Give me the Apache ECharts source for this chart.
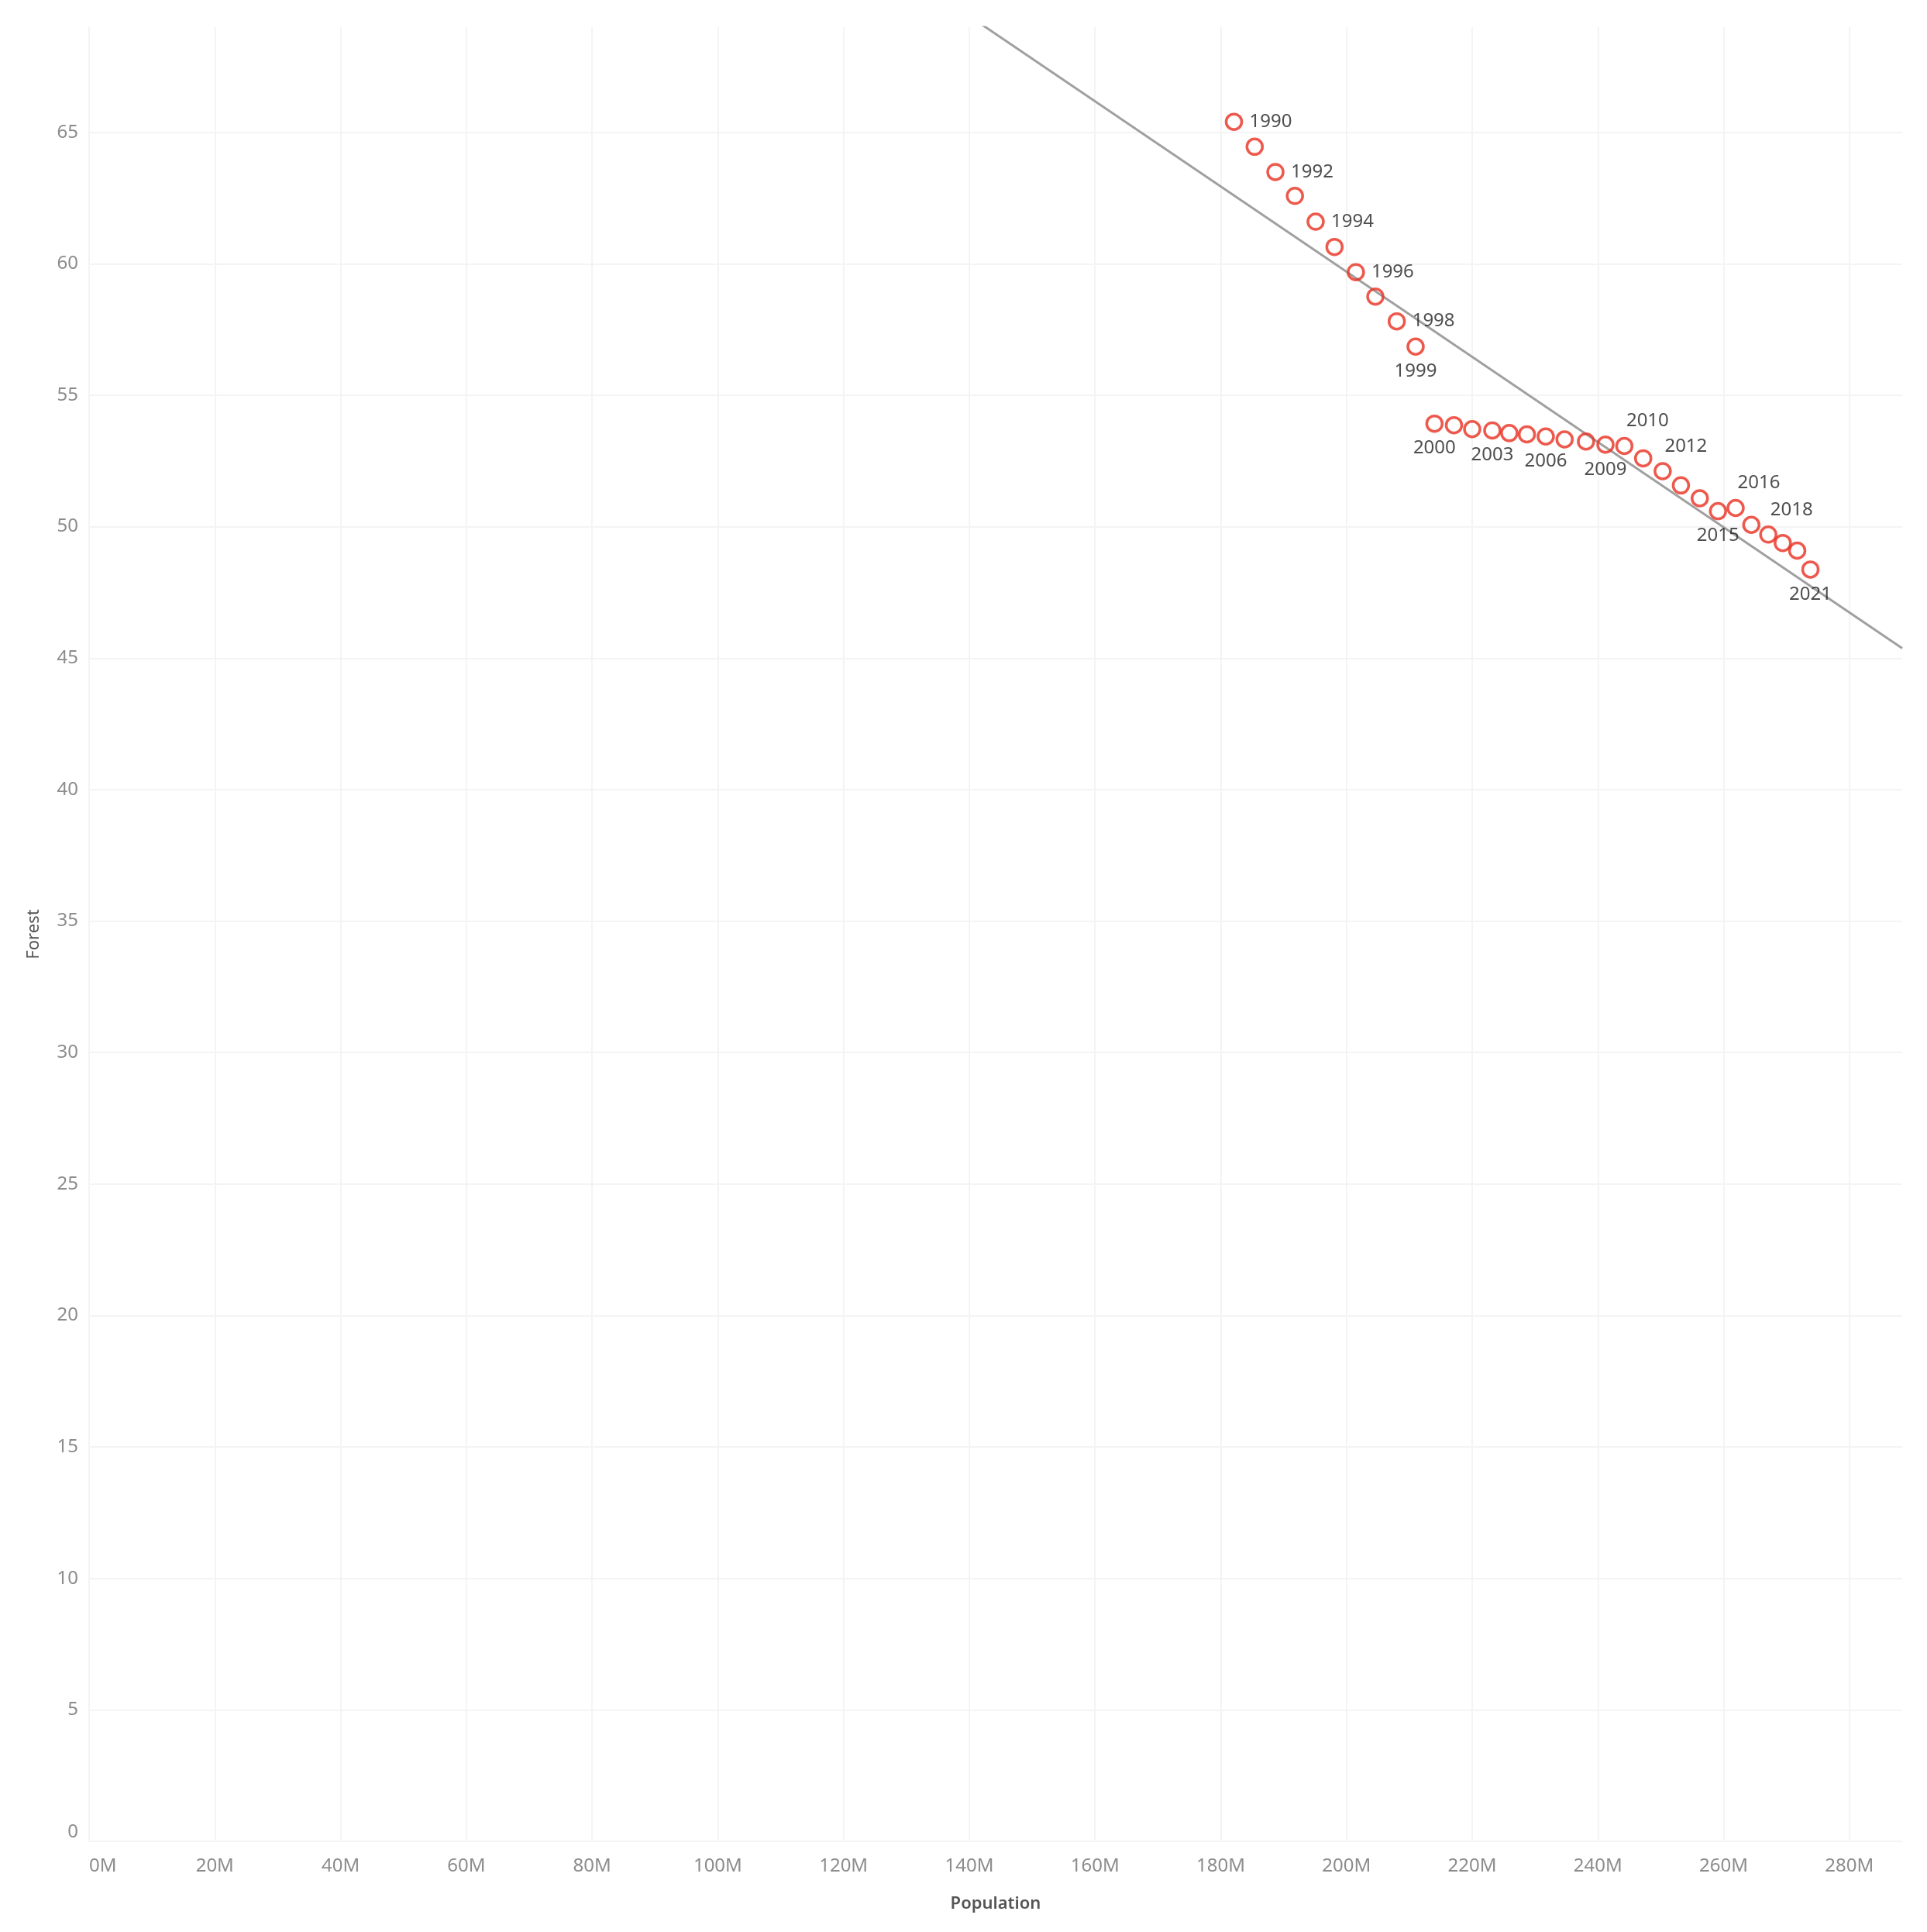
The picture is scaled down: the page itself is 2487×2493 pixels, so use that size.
<!DOCTYPE html>
<html>
<head>
<meta charset="utf-8">
<title>Forest vs Population</title>
<script src="https://cdn.jsdelivr.net/npm/echarts@6/dist/echarts.min.js"></script>
<style>
  html, body { margin: 0; padding: 0; background: #fff; }
  #chart { width: 2487px; height: 2493px; }
</style>
</head>
<body>
<div id="chart"></div>
<script>
// values (population in millions, forest in %)
const years = [1990, 1991, 1992, 1993, 1994, 1995, 1996, 1997, 1998, 1999,
  2000, 2001, 2002, 2003, 2004, 2005, 2006, 2007, 2008, 2009,
  2010, 2011, 2012, 2013, 2014, 2015, 2016, 2017, 2018, 2019, 2020, 2021];
const population = [182.1, 185.4, 188.7, 191.8, 195.1, 198.1, 201.5, 204.6, 208.0, 211.0,
  214.0, 217.1, 220.0, 223.2, 225.9, 228.7, 231.7, 234.7, 238.1, 241.2,
  244.2, 247.2, 250.3, 253.2, 256.2, 259.1, 261.9, 264.4, 267.1, 269.4, 271.7, 273.8];
const forest = [65.40, 64.45, 63.49, 62.58, 61.60, 60.64, 59.68, 58.75, 57.81, 56.85,
  53.92, 53.86, 53.71, 53.66, 53.56, 53.51, 53.43, 53.32, 53.24, 53.12,
  53.07, 52.60, 52.11, 51.57, 51.08, 50.59, 50.71, 50.07, 49.70, 49.38, 49.09, 48.37];

// which years get a label, and where it sits
const labelRight = [1990, 1992, 1994, 1996, 1998];
const labelBelow = [1999, 2000, 2003, 2006, 2009, 2015, 2021];
const labelAboveRight = [2010, 2012, 2016, 2018];

const X_MAX = 288.4;
const Y_MAX = 69;

// least squares trend line, like the tableau one
const n = years.length;
let mx = 0, my = 0;
for (let i = 0; i < n; i++) { mx += population[i]; my += forest[i]; }
mx /= n; my /= n;
let sxy = 0, sxx = 0;
for (let i = 0; i < n; i++) {
  sxy += (population[i] - mx) * (forest[i] - my);
  sxx += (population[i] - mx) * (population[i] - mx);
}
const slope = sxy / sxx;
const intercept = my - slope * mx;

function labelFor(year) {
  if (labelRight.includes(year)) return { show: true, position: 'inside', align: 'left', offset: [20, 0] };
  if (labelBelow.includes(year)) return { show: true, position: 'inside', offset: [0, 32] };
  if (labelAboveRight.includes(year)) return { show: true, position: 'inside', offset: [30, -32] };
  return { show: false };
}

const points = years.map((y, i) => ({
  value: [population[i], forest[i], y],
  label: labelFor(y)
}));

const font = '"Noto Sans", "Open Sans", sans-serif';
const gridColor = '#f4f4f4';

const chart = echarts.init(document.getElementById('chart'));
chart.setOption({
  backgroundColor: '#fff',
  animation: false,
  grid: { left: 115, right: 32, top: 35, bottom: 117 },
  xAxis: {
    type: 'value',
    min: 0,
    max: X_MAX,
    interval: 20,
    name: 'Population',
    nameLocation: 'middle',
    nameGap: 70,
    nameTextStyle: { fontFamily: font, fontSize: 22, fontWeight: 600, color: '#555' },
    axisLine: { show: false },
    axisTick: { show: false },
    axisLabel: {
      margin: 20,
      fontFamily: font,
      fontSize: 24,
      color: '#8c8c8c',
      showMaxLabel: false,
      alignMinLabel: 'left',
      formatter: v => v + 'M'
    },
    splitLine: { show: true, showMaxLine: false, lineStyle: { color: gridColor, width: 2 } }
  },
  yAxis: {
    type: 'value',
    min: 0,
    max: Y_MAX,
    interval: 5,
    name: 'Forest',
    nameLocation: 'middle',
    nameGap: 60,
    nameTextStyle: { fontFamily: font, fontSize: 22, color: '#555' },
    axisLine: { show: false },
    axisTick: { show: false },
    axisLabel: {
      margin: 14,
      fontFamily: font,
      fontSize: 24,
      color: '#8c8c8c',
      showMaxLabel: false,
      verticalAlignMinLabel: 'bottom'
    },
    splitLine: { show: true, showMaxLine: false, lineStyle: { color: gridColor, width: 2 } }
  },
  series: [
    {
      name: 'trend',
      type: 'line',
      silent: true,
      showSymbol: false,
      clip: true,
      z: 1,
      lineStyle: { color: '#a0a0a0', width: 3 },
      data: [[0, intercept], [X_MAX, intercept + slope * X_MAX]]
    },
    {
      name: 'Forest',
      type: 'scatter',
      symbol: 'circle',
      symbolSize: 20,
      z: 3,
      itemStyle: { color: 'rgba(0,0,0,0)', borderColor: '#e8301f', borderWidth: 3.5 },
      label: {
        fontFamily: font,
        fontSize: 24,
        color: '#222',
        formatter: p => p.value[2]
      },
      data: points
    }
  ]
});
</script>
</body>
</html>
